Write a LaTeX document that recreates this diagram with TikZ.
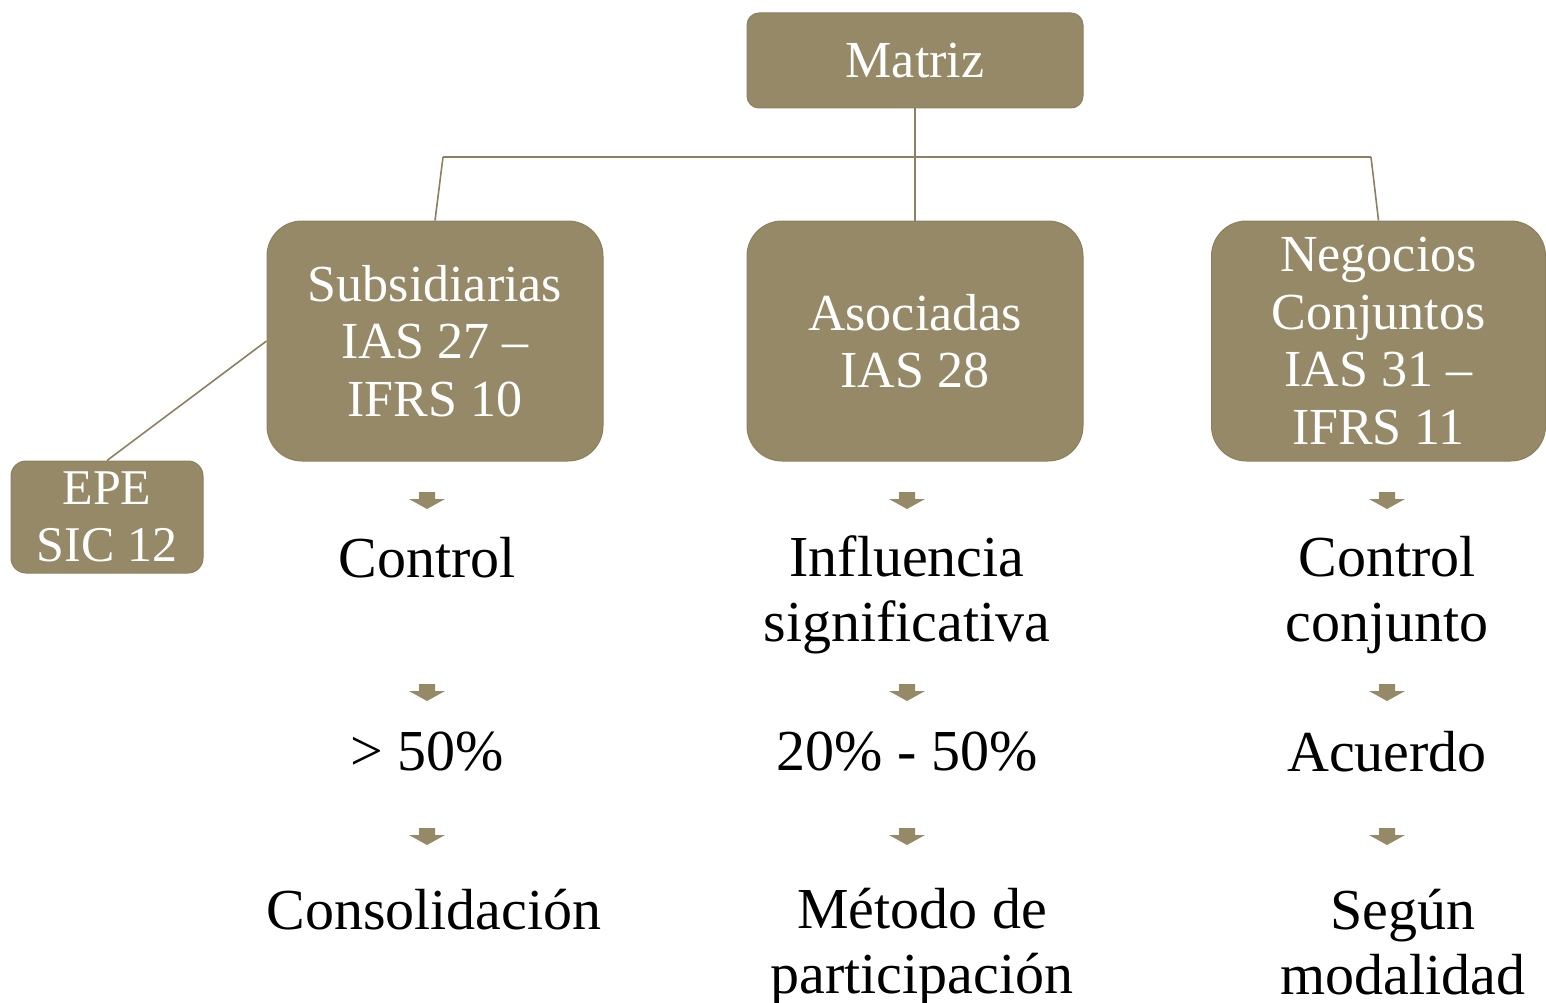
\documentclass[tikz,border=0pt]{standalone}
\usepackage{fontspec}
\setmainfont{Liberation Serif}
\definecolor{olive}{HTML}{958968}
\definecolor{oliveline}{HTML}{8C805F}
\tikzset{
  box/.style={draw=oliveline, line width=1pt, fill=olive, text=white, align=center,
    font=\fontsize{52}{57.5}\selectfont, inner sep=0pt},
  label/.style={text=black, align=center, font=\fontsize{58}{65}\selectfont, inner sep=0pt},
  conn/.style={draw=oliveline, line width=1.6pt},
  pics/darrow/.style={code={
    \fill[olive] (-8,-8) -- (8,-8) -- (8,-1) -- (18,-1) -- (0,9) -- (-18,-1) -- (-8,-1) -- cycle;
  }}
}
\begin{document}
\begin{tikzpicture}[x=1pt,y=-1pt]
\useasboundingbox (0,0) rectangle (1546,1003);
% boxes
\node[box, minimum width=336, minimum height=95, rounded corners=12] (matriz) at (915,60.5) {Matriz};
\node[box, minimum width=336, minimum height=240, rounded corners=35] (subs) at (435,341) {Subsidiarias\\IAS 27 –\\IFRS 10};
\node[box, minimum width=336, minimum height=240, rounded corners=35] (asoc) at (915,341) {Asociadas\\IAS 28};
\node[box, minimum width=334, minimum height=240, rounded corners=35] (neg) at (1378.5,341) {Negocios\\Conjuntos\\IAS 31 –\\IFRS 11};
\node[box, minimum width=192, minimum height=112, rounded corners=15, font=\fontsize{50}{57}\selectfont] (epe) at (107,517) {EPE\\SIC 12};
% connectors
\coordinate (hl) at (443,157);
\coordinate (hr) at (1371,157);
\draw[conn] (matriz.south) -- (asoc.north);
\draw[conn] (hl) -- (hr);
\draw[conn] (hl) -- (subs.north);
\draw[conn] (hr) -- (neg.north);
\draw[conn] (epe.north) -- (subs.west);
% arrows
\foreach \x in {427,907,1387}{
  \foreach \y in {500,692,836}{
    \pic at (\x,\y) {darrow};
  }
}
% labels
\node[label] (l1) at (427,558) {Control};
\node[label] (l2) at (427,752) {> 50\%};
\node[label] (l3) at (434,910) {Consolidación};
\node[label] (m1) at (907,595) {Influencia\\significativa};
\node[label] (m2) at (907,752) {20\% - 50\%};
\node[label] (m3) at (922,947) {Método de\\participación};
\node[label] (r1) at (1387,595) {Control\\conjunto};
\node[label] (r2) at (1387,752) {Acuerdo};
\node[label] (r3) at (1403,942) {Según\\modalidad};
\end{tikzpicture}
\end{document}
